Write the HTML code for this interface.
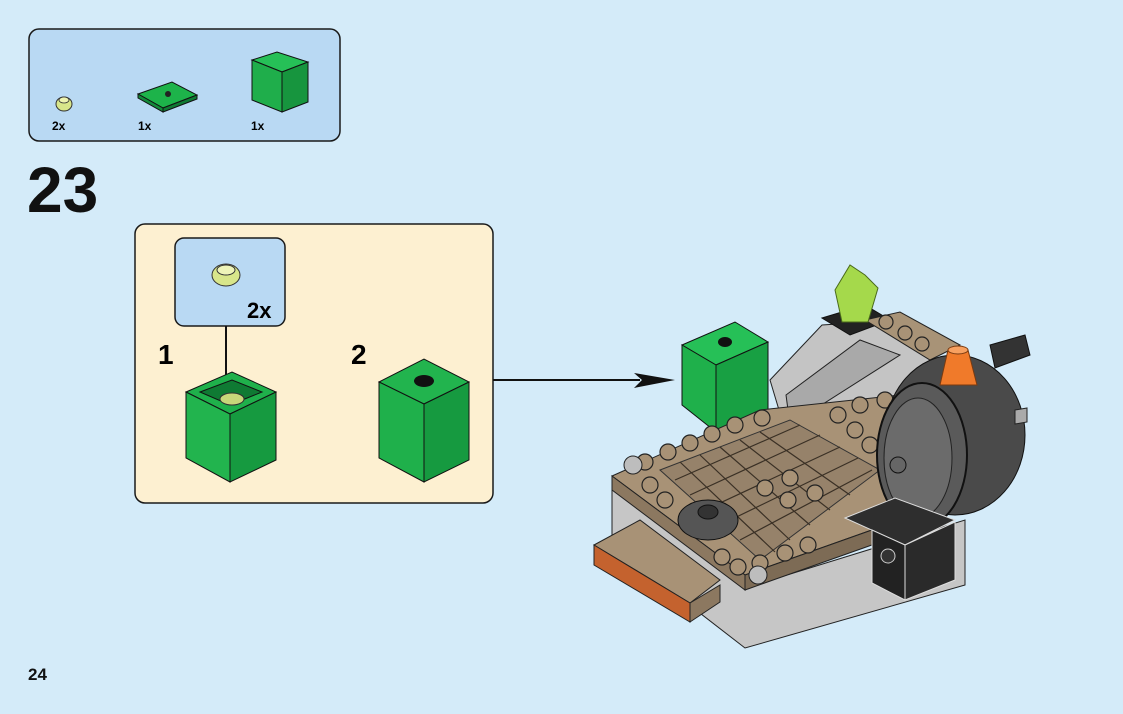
<!DOCTYPE html>
<html><head><style>
html,body{margin:0;padding:0;background:#d4ebf9;}
body{width:1123px;height:709px;position:relative;overflow:hidden;font-family:"Liberation Sans",sans-serif;}
</style></head><body>
<svg width="1123" height="709" viewBox="0 0 1123 709" xmlns="http://www.w3.org/2000/svg" font-family="Liberation Sans, sans-serif">
<rect width="1123" height="709" fill="#d4ebf9"/>
<rect x="29" y="29" width="311" height="112" rx="10" fill="#b9d9f3" stroke="#1a1a1a" stroke-width="1.5"/>
<ellipse cx="64" cy="104" rx="8" ry="7" fill="#d8e68a" stroke="#333"/>
<ellipse cx="64" cy="100" rx="5" ry="3" fill="#eef4b0" stroke="#333" stroke-width=".8"/>
<text x="52" y="130" font-size="12" font-weight="bold">2x</text>
<polygon points="138,94 172,82 197,95 163,108" fill="#1db34a" stroke="#111"/>
<polygon points="138,94 163,108 163,112 138,98" fill="#13893a" stroke="#111"/>
<polygon points="163,108 197,95 197,99 163,112" fill="#0f7a33" stroke="#111"/>
<circle cx="168" cy="94" r="3" fill="#222"/>
<text x="138" y="130" font-size="12" font-weight="bold">1x</text>
<polygon points="252,60 277,52 308,62 282,72" fill="#26c057" stroke="#111"/>
<polygon points="252,60 282,72 282,112 252,100" fill="#1fae4b" stroke="#111"/>
<polygon points="282,72 308,62 308,102 282,112" fill="#17953e" stroke="#111"/>
<text x="251" y="130" font-size="12" font-weight="bold">1x</text>
<text x="27" y="212" font-size="64" font-weight="bold" fill="#111">23</text>
<rect x="135" y="224" width="358" height="279" rx="10" fill="#fdf0d1" stroke="#1a1a1a" stroke-width="1.5"/>
<rect x="175" y="238" width="110" height="88" rx="9" fill="#b9d9f3" stroke="#1a1a1a" stroke-width="1.5"/>
<ellipse cx="226" cy="275" rx="14" ry="11" fill="#d8e68a" stroke="#333"/>
<ellipse cx="226" cy="270" rx="9" ry="5" fill="#eef4b8" stroke="#333"/>
<text x="247" y="318" font-size="22" font-weight="bold">2x</text>
<line x1="226" y1="326" x2="226" y2="385" stroke="#111" stroke-width="2"/>
<polygon points="220,380 232,380 226,394" fill="#111"/>
<text x="158" y="364" font-size="28" font-weight="bold">1</text>
<polygon points="186,392 232,372 276,392 230,414" fill="#1fb04b" stroke="#111"/>
<polygon points="200,392 232,380 262,392 230,405" fill="#0f7a33" stroke="#111"/>
<ellipse cx="232" cy="399" rx="12" ry="6" fill="#c8d77a" stroke="#333"/>
<polygon points="186,392 230,414 230,482 186,458" fill="#22b44e" stroke="#111"/>
<polygon points="230,414 276,392 276,460 230,482" fill="#169a40" stroke="#111"/>
<text x="351" y="364" font-size="28" font-weight="bold">2</text>
<polygon points="379,382 424,359 469,382 424,404" fill="#22b44e" stroke="#111"/>
<ellipse cx="424" cy="381" rx="10" ry="6" fill="#111"/>
<polygon points="379,382 424,404 424,482 379,458" fill="#1fb04b" stroke="#111"/>
<polygon points="424,404 469,382 469,460 424,482" fill="#169a40" stroke="#111"/>
<line x1="493" y1="380" x2="640" y2="380" stroke="#111" stroke-width="2"/>
<polygon points="634,373 675,380 634,388 642,380" fill="#111"/>
<polygon points="770,380 822,325 900,320 930,345 930,400 785,430" fill="#c4c4c4" stroke="#222"/>
<polygon points="786,395 860,340 900,355 790,425" fill="#a9a9a9" stroke="#222"/>
<polygon points="822,318 865,305 890,320 850,335" fill="#222" stroke="#111"/>
<polygon points="865,320 900,312 960,345 930,360" fill="#a89377" stroke="#222"/>
<polygon points="990,345 1025,335 1030,355 995,368" fill="#333" stroke="#111"/>
<polygon points="835,290 850,265 865,275 878,288 868,322 842,322" fill="#a5d94b" stroke="#4a6a1a"/>
<polygon points="682,345 735,322 768,342 716,365" fill="#26c057" stroke="#111"/>
<ellipse cx="725" cy="342" rx="7" ry="5" fill="#111"/>
<polygon points="682,345 716,365 716,432 682,405" fill="#1fb04b" stroke="#111"/>
<polygon points="716,365 768,342 768,410 716,432" fill="#18a043" stroke="#111"/>
<polygon points="612,488 745,588 965,520 965,585 745,648 612,545" fill="#c6c6c6" stroke="#222"/>
<polygon points="612,476 760,410 900,395 900,520 745,575" fill="#a89276" stroke="#222"/>
<polygon points="612,476 745,575 745,590 612,490" fill="#8c7860" stroke="#222"/>
<polygon points="745,575 900,520 900,535 745,590" fill="#7d6b55" stroke="#222"/>
<polygon points="660,470 790,420 880,470 760,560" fill="#96826a" stroke="#333"/>
<g stroke="#3a3025" stroke-width="1.2">
<line x1="680" y1="462" x2="775" y2="552"/><line x1="700" y1="455" x2="790" y2="540"/><line x1="720" y1="447" x2="810" y2="525"/><line x1="740" y1="440" x2="830" y2="510"/><line x1="760" y1="432" x2="850" y2="495"/>
<line x1="675" y1="480" x2="800" y2="425"/><line x1="690" y1="495" x2="820" y2="435"/><line x1="705" y1="510" x2="840" y2="447"/><line x1="720" y1="525" x2="858" y2="458"/><line x1="740" y1="540" x2="872" y2="470"/>
</g>
<g fill="#a89276" stroke="#222" stroke-width="1.2">
<circle cx="645" cy="462" r="8"/><circle cx="668" cy="452" r="8"/><circle cx="690" cy="443" r="8"/><circle cx="712" cy="434" r="8"/><circle cx="735" cy="425" r="8"/><circle cx="762" cy="418" r="8"/>
<circle cx="650" cy="485" r="8"/><circle cx="665" cy="500" r="8"/><circle cx="722" cy="557" r="8"/><circle cx="738" cy="567" r="8"/><circle cx="760" cy="563" r="8"/><circle cx="785" cy="553" r="8"/><circle cx="808" cy="545" r="8"/>
<circle cx="838" cy="415" r="8"/><circle cx="860" cy="405" r="8"/><circle cx="885" cy="400" r="8"/><circle cx="855" cy="430" r="8"/><circle cx="870" cy="445" r="8"/>
<circle cx="790" cy="478" r="8"/><circle cx="765" cy="488" r="8"/><circle cx="788" cy="500" r="8"/><circle cx="815" cy="493" r="8"/>
<circle cx="886" cy="322" r="7"/><circle cx="905" cy="333" r="7"/><circle cx="922" cy="344" r="7"/>
</g>
<circle cx="633" cy="465" r="9" fill="#bdbdbd" stroke="#222"/>
<circle cx="758" cy="575" r="9" fill="#bdbdbd" stroke="#222"/>
<ellipse cx="708" cy="520" rx="30" ry="20" fill="#555" stroke="#111"/>
<ellipse cx="708" cy="512" rx="10" ry="7" fill="#333" stroke="#111"/>
<polygon points="594,545 640,520 720,580 690,603" fill="#a89276" stroke="#222"/>
<polygon points="594,545 690,603 690,622 594,565" fill="#c4622e" stroke="#222"/>
<polygon points="690,603 720,585 720,602 690,622" fill="#8c7860" stroke="#222"/>
<ellipse cx="955" cy="435" rx="70" ry="80" fill="#4a4a4a" stroke="#111"/>
<ellipse cx="922" cy="455" rx="45" ry="72" fill="#5a5a5a" stroke="#111" stroke-width="2"/>
<ellipse cx="918" cy="458" rx="34" ry="60" fill="#6b6b6b" stroke="#222"/>
<circle cx="898" cy="465" r="8" fill="#666" stroke="#111"/>
<polygon points="1015,410 1027,408 1027,422 1015,424" fill="#aaa" stroke="#222"/>
<polygon points="948,350 968,350 977,385 940,385" fill="#f07a2a" stroke="#7a3a10"/>
<ellipse cx="958" cy="350" rx="10" ry="4" fill="#f7a060" stroke="#7a3a10"/>
<polygon points="845,518 895,498 955,520 905,545" fill="#2e2e2e" stroke="#ddd"/>
<polygon points="872,530 905,545 905,600 872,583" fill="#222" stroke="#ddd"/>
<polygon points="905,545 955,522 955,580 905,600" fill="#2a2a2a" stroke="#ddd"/>
<circle cx="888" cy="556" r="7" fill="#333" stroke="#ccc"/>
<text x="28" y="680" font-size="17" font-weight="bold" fill="#111">24</text>
</svg>
</body></html>
